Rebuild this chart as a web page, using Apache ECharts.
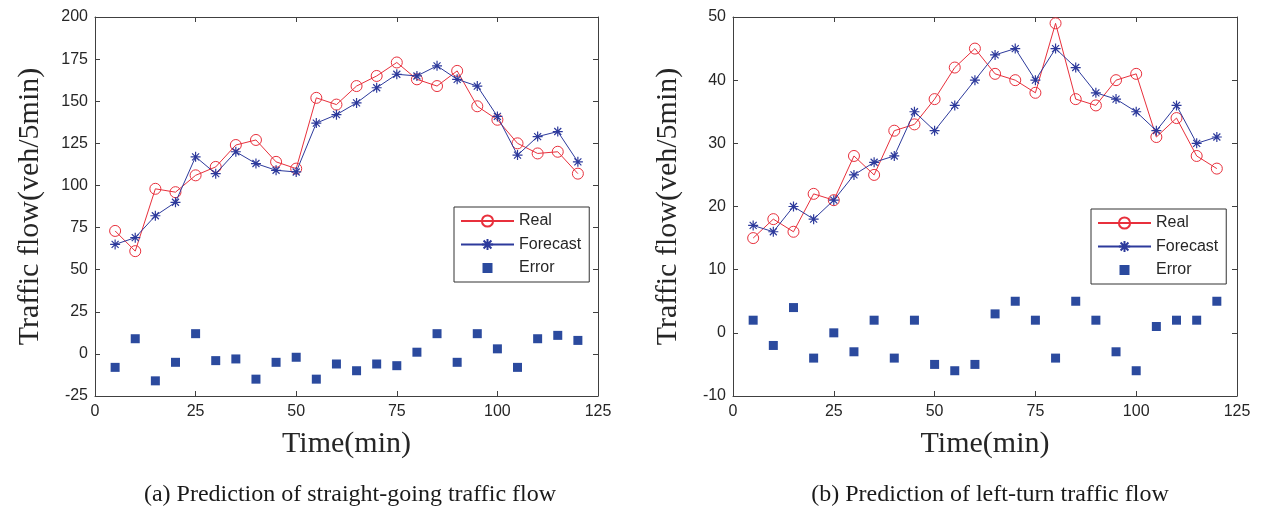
<!DOCTYPE html>
<html>
<head>
<meta charset="utf-8">
<script src="https://cdn.jsdelivr.net/npm/echarts@6/dist/echarts.min.js"></script>
<style>
  html, body { margin: 0; padding: 0; background: #fff; }
  #chart { width: 1261px; height: 512px; }
</style>
</head>
<body>
<div id="chart"></div>
<script>
// time axis (min)
const times = [5, 10, 15, 20, 25, 30, 35, 40, 45, 50, 55, 60, 65, 70, 75, 80, 85, 90, 95, 100, 105, 110, 115, 120];

// (a) straight-going
const straightReal = [73, 61, 98, 96, 106, 111, 124, 127, 114, 110, 152, 148, 159, 165, 173, 163, 159, 168, 147, 139, 125, 119, 120, 107];
const straightForecast = [65, 69, 82, 90, 117, 107, 120, 113, 109, 108, 137, 142, 149, 158, 166, 165, 171, 163, 159, 141, 118, 129, 132, 114];
const straightError = [-8, 9, -16, -5, 12, -4, -3, -15, -5, -2, -15, -6, -10, -6, -7, 1, 12, -5, 12, 3, -8, 9, 11, 8];

// (b) left-turn
const leftReal = [15, 18, 16, 22, 21, 28, 25, 32, 33, 37, 42, 45, 41, 40, 38, 49, 37, 36, 40, 41, 31, 34, 28, 26];
const leftForecast = [17, 16, 20, 18, 21, 25, 27, 28, 35, 32, 36, 40, 44, 45, 40, 45, 42, 38, 37, 35, 32, 36, 30, 31];
const leftError = [2, -2, 4, -4, 0, -3, 2, -4, 2, -5, -6, -5, 3, 5, 2, -4, 5, 2, -3, -6, 1, 2, 2, 5];

const captions = ["(a) Prediction of straight-going traffic flow", "(b) Prediction of left-turn traffic flow"];

const RED = "#e8303c";
const BLUE = "#2d3a9c";
const SQ = "#2b4a9e";
const AXIS = "#404040";
const SANS = "Liberation Sans, Arial, sans-serif";
const SERIF = "Liberation Serif, Times New Roman, serif";
const STAR = "path://M5,0L5,10M0,5L10,5M1.5,1.5L8.5,8.5M1.5,8.5L8.5,1.5";
const SQUARE = "path://M0,0M14,14M2,2L12,2L12,12L2,12Z";

function pairs(ys) {
  return times.map((t, i) => [t, ys[i]]);
}

function xAxes(gi) {
  return [
    {
      type: "value", gridIndex: gi, position: "bottom", min: 0, max: 125, interval: 25,
      axisLine: { show: true, onZero: false, lineStyle: { color: AXIS, width: 1 } },
      axisTick: { inside: true, length: 5, lineStyle: { color: AXIS } },
      splitLine: { show: false },
      axisLabel: { fontSize: 16, color: "#262626", fontFamily: SANS, margin: 8 },
      name: "Time(min)", nameLocation: "middle", nameGap: 33,
      nameTextStyle: { fontSize: 30, fontFamily: SERIF, color: "#262626" },
    },
    {
      type: "value", gridIndex: gi, position: "top", min: 0, max: 125, interval: 25,
      axisLine: { show: true, onZero: false, lineStyle: { color: AXIS, width: 1 } },
      axisTick: { inside: true, length: 5, lineStyle: { color: AXIS } },
      axisLabel: { show: false }, splitLine: { show: false },
    },
  ];
}

function yAxes(gi, min, max, step) {
  return [
    {
      type: "value", gridIndex: gi, position: "left", min: min, max: max, interval: step,
      axisLine: { show: true, onZero: false, lineStyle: { color: AXIS, width: 1 } },
      axisTick: { inside: true, length: 5, lineStyle: { color: AXIS } },
      splitLine: { show: false },
      axisLabel: { fontSize: 16, color: "#262626", fontFamily: SANS, margin: 7 },
      name: "Traffic flow(veh/5min)", nameLocation: "middle", nameGap: 50, nameRotate: 90,
      nameTextStyle: { fontSize: 30, fontFamily: SERIF, color: "#262626" },
    },
    {
      type: "value", gridIndex: gi, position: "right", min: min, max: max, interval: step,
      axisLine: { show: true, onZero: false, lineStyle: { color: AXIS, width: 1 } },
      axisTick: { inside: true, length: 5, lineStyle: { color: AXIS } },
      axisLabel: { show: false }, splitLine: { show: false },
    },
  ];
}

function seriesFor(gi, real, forecast, error) {
  const xi = gi * 2, yi = gi * 2;
  return [
    {
      name: "Real", type: "line", xAxisIndex: xi, yAxisIndex: yi, data: pairs(real),
      symbol: "circle", symbolSize: 11,
      lineStyle: { color: RED, width: 1 },
      itemStyle: { color: "rgba(255,255,255,0)", borderColor: RED, borderWidth: 1 },
      emphasis: { disabled: true }, z: 3,
    },
    {
      name: "Forecast", type: "line", xAxisIndex: xi, yAxisIndex: yi, data: pairs(forecast),
      symbol: STAR, symbolSize: 10,
      lineStyle: { color: BLUE, width: 1 },
      itemStyle: { color: BLUE, borderColor: BLUE, borderWidth: 1.2 },
      emphasis: { disabled: true }, z: 4,
    },
    {
      name: "Error", type: "scatter", xAxisIndex: xi, yAxisIndex: yi, data: pairs(error),
      symbol: "rect", symbolSize: 9,
      itemStyle: { color: SQ, opacity: 1 },
      emphasis: { disabled: true },
    },
  ];
}

function legendAt(left, top) {
  return {
    orient: "vertical", left: left, top: top,
    data: ["Real", "Forecast", { name: "Error", icon: SQUARE }],
    itemWidth: 53, itemHeight: 14, itemGap: 7.5,
    padding: [6, 8, 6, 6],
    borderColor: "#333", borderWidth: 1, backgroundColor: "#fff",
    textStyle: { fontSize: 16, fontFamily: SANS, color: "#262626" },
    selectedMode: false,
  };
}

const chart = echarts.init(document.getElementById("chart"), null, { renderer: "canvas" });
chart.setOption({
  animation: false,
  backgroundColor: "#fff",
  title: [
    { text: captions[0], left: 345, top: 478, textAlign: "center",
      textStyle: { fontSize: 24, fontWeight: "normal", fontFamily: SERIF, color: "#1a1a1a" } },
    { text: captions[1], left: 985, top: 478, textAlign: "center",
      textStyle: { fontSize: 24, fontWeight: "normal", fontFamily: SERIF, color: "#1a1a1a" } },
  ],
  legend: [legendAt(454, 207), legendAt(1091, 209)],
  grid: [
    { left: 95, right: 663, top: 17, bottom: 116 },
    { left: 733, right: 24, top: 17, bottom: 116 },
  ],
  xAxis: [...xAxes(0), ...xAxes(1)],
  yAxis: [...yAxes(0, -25, 200, 25), ...yAxes(1, -10, 50, 10)],
  series: [
    ...seriesFor(0, straightReal, straightForecast, straightError),
    ...seriesFor(1, leftReal, leftForecast, leftError),
  ],
});
</script>
</body>
</html>
